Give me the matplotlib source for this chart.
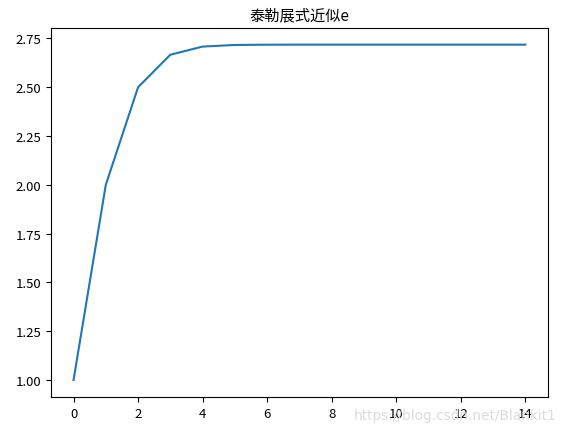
import matplotlib
matplotlib.use("Agg")
import matplotlib.pyplot as plt

plt.rcParams['font.family'] = ['Noto Sans CJK SC', 'DejaVu Sans']
plt.rcParams['axes.unicode_minus'] = False

# number of terms and the partial sums of the Taylor series for e
n_terms = list(range(15))
approx = [1.0, 2.0, 2.5, 2.666667, 2.708333, 2.716667, 2.718056, 2.718254,
          2.718279, 2.718282, 2.718282, 2.718282, 2.718282, 2.718282, 2.718282]

fig = plt.figure(figsize=(5.66, 4.31), dpi=100)
ax = fig.add_axes([0.090, 0.077, 0.878, 0.856])
ax.plot(n_terms, approx, color='#1f77b4', linewidth=1.5)
ax.set_title("泰勒展式近似e", fontsize=11)
ax.set_xticks([0, 2, 4, 6, 8, 10, 12, 14])
ax.set_yticks([1.0, 1.25, 1.5, 1.75, 2.0, 2.25, 2.5, 2.75])
ax.set_yticklabels(["1.00", "1.25", "1.50", "1.75", "2.00", "2.25", "2.50", "2.75"])
ax.tick_params(labelsize=9.5)

# blog watermark in the bottom-right corner
fig.text(0.983, 0.035, "https://blog.csdn.net/Blankit1", ha='right', va='center',
         fontsize=9.8, color='#dcdcdc', family=['DejaVu Sans'], zorder=0)

fig.savefig("out.png", dpi=100)
